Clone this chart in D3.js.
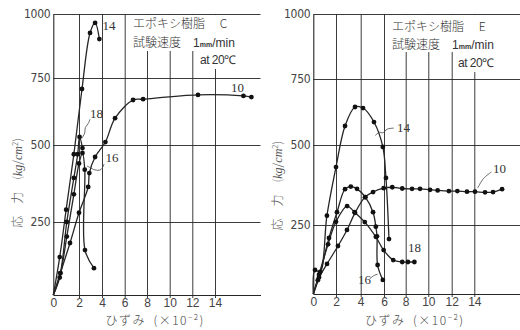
<!DOCTYPE html>
<html>
<head>
<meta charset="utf-8">
<script src="https://cdn.jsdelivr.net/npm/d3@7"></script>
<style>
  body { margin: 0; background: #fff; }
  svg { display: block; }
</style>
</head>
<body>
<svg id="chart" width="520" height="330"></svg>
<script>
// strain (x10^-2) vs stress (kg/cm2), epoxy resin C and E, 1mm/min at 20C
const xTicks = [0, 2, 4, 6, 8, 10, 12, 14];
const yTicks = [250, 500, 750, 1000];
const xMax = 18;

// resin C
const c14 = [[0, 0], [0.5, 130], [1.0, 290], [1.6, 470], [2.26, 709], [2.96, 926], [3.4, 965], [3.77, 902]];
const c18 = [[0, 0], [0.55, 75], [1.05, 250], [1.6, 393], [1.9, 470], [2.05, 530], [2.3, 490]];
const c16 = [[0, 0], [0.5, 60], [1.05, 200], [1.6, 340], [2.0, 440], [2.3, 474], [2.5, 420], [2.52, 154], [3.3, 92]];
const c10 = [[0, 0], [0.55, 75], [1.3, 178], [2.0, 280], [2.8, 364], [2.9, 409], [3.4, 461], [4.3, 511], [5.15, 600],
  [6.75, 668], [7.65, 671], [12.5, 687], [16.5, 683], [17.2, 679]];

// resin E
const e14 = [[0, 0], [0.15, 87], [0.6, 80], [1.2, 279], [2.0, 431], [2.73, 572], [3.54, 644], [4.2, 640], [5.14, 587],
  [5.9, 494], [6.18, 397], [6.46, 199]];
const e10 = [[0, 0], [0.4, 50], [1.21, 109], [2.16, 174], [2.89, 232], [3.54, 288], [4.37, 337], [5.06, 353], [5.97, 365],
  [6.76, 368], [7.68, 364], [8.56, 363], [9.27, 363], [10.15, 360], [10.8, 358], [11.76, 356], [12.5, 356],
  [13.35, 354], [14.06, 354], [14.94, 352], [15.64, 353], [16.43, 362]];
const e16 = [[0, 0], [0.5, 60], [1.38, 203], [2.08, 290], [2.73, 362], [3.2, 370], [3.7, 363], [4.4, 337], [5.06, 290],
  [5.3, 244], [5.4, 209], [5.45, 105], [5.9, 51]];
const e18 = [[0, 0], [0.5, 70], [1.3, 180], [2.0, 260], [2.9, 309], [3.5, 290], [4.35, 259], [5.3, 207], [5.97, 159],
  [6.85, 123], [7.68, 116], [8.2, 116], [8.77, 116]];

const ink = "#262626";
const numFont = "'Liberation Sans', Arial, sans-serif";
const narrowFont = "'Liberation Sans Narrow', 'DejaVu Sans Condensed', sans-serif";
const jpFont = "'Noto Sans CJK JP', 'Noto Sans', sans-serif";

const svg = d3.select("#chart");

const panels = [
  {
    grade: "C",
    // scan is slightly uneven so the scales are piecewise
    xRange: [53.3, 79, 102, 124.7, 147, 169.7, 192.3, 215, 260.5],
    yRange: [295, 222, 145, 78, 14],
    series: [c14, c18, c16, c10],
    labels: [
      { t: "14", x: 4.05, y: 957 },
      { t: "10", x: 15.4, y: 716 },
      { t: "18", x: 2.96, y: 619 },
      { t: "16", x: 4.3, y: 458 }
    ],
    leaders: [
      [[2.26, 526], [2.5, 545], [2.55, 565], [2.8, 580], [2.96, 596]],
      [[4.18, 438], [3.9, 420], [3.39, 419], [2.9, 428], [2.7, 432]]
    ],
    note: { x: 133, y1: 28, y2: 47, x3: 200, y3: 64 },
    masks: [[128, 15, 131, 36], [196, 50, 52, 19]],
    yTitleX: 18
  },
  {
    grade: "E",
    xRange: [313.3, 336, 360.7, 384, 405.7, 428.3, 451.7, 474.3, 520],
    yRange: [294, 225, 145, 79, 14],
    series: [e14, e10, e16, e18],
    labels: [
      { t: "14", x: 7.2, y: 568 },
      { t: "10", x: 15.64, y: 428 },
      { t: "18", x: 8.2, y: 167 },
      { t: "16", x: 3.78, y: 51 }
    ],
    leaders: [
      [[5.25, 536], [5.6, 548], [5.9, 546], [6.3, 560], [6.9, 564]],
      [[14.3, 366], [14.8, 395], [15.5, 416]],
      [[4.75, 54], [5.1, 66], [5.45, 72]]
    ],
    note: { x: 392, y1: 31, y2: 49, x3: 458, y3: 67 },
    masks: [[388, 15, 132, 37], [454, 52, 52, 20]],
    yTitleX: 278
  }
];

panels.forEach(drawPanel);

function drawPanel(p) {
  const x = d3.scaleLinear().domain([...xTicks, xMax]).range(p.xRange);
  const y = d3.scaleLinear().domain([0, ...yTicks]).range(p.yRange);
  const x0 = x(0), x1 = x(xMax), y0 = y(0), yTop = y(1000);
  const g = svg.append("g");

  // x axis with full-height grid lines
  const gx = g.append("g")
    .attr("transform", "translate(0," + y0 + ")")
    .call(d3.axisBottom(x).tickValues(xTicks).tickSizeInner(-(y0 - yTop)).tickSizeOuter(0).tickPadding(3));
  gx.selectAll(".tick line").attr("y1", 3).attr("stroke", ink).attr("stroke-width", 0.9);
  gx.select(".tick line").remove();
  gx.select(".domain").attr("stroke", ink).attr("stroke-width", 1.1);
  gx.selectAll("text").attr("font-family", numFont).attr("font-size", 12).attr("fill", "#444");

  // y axis, gridlines across the panel
  const gy = g.append("g")
    .attr("transform", "translate(" + x0 + ",0)")
    .call(d3.axisLeft(y).tickValues(yTicks).tickFormat(d3.format("d"))
      .tickSizeInner(-(x1 - x0)).tickSizeOuter(0).tickPadding(3));
  gy.selectAll(".tick line").attr("x1", 0).attr("stroke", ink).attr("stroke-width", 0.9);
  gy.select(".domain").attr("stroke", ink).attr("stroke-width", 1.1);
  gy.selectAll("text").attr("font-family", narrowFont).attr("font-size", 12).attr("fill", "#444")
    .attr("letter-spacing", -0.3);

  // white paper under the note text
  g.selectAll(".mask").data(p.masks).enter().append("rect")
    .attr("x", d => d[0]).attr("y", d => d[1]).attr("width", d => d[2]).attr("height", d => d[3])
    .attr("fill", "#fff");

  // note
  const nt = g.append("g").attr("font-family", jpFont).attr("fill", "#333").attr("font-size", 12);
  nt.append("text").attr("x", p.note.x).attr("y", p.note.y1).attr("font-weight", 300)
    .text("エポキシ樹脂\u3000 " + p.grade);
  const l2 = nt.append("text").attr("x", p.note.x).attr("y", p.note.y2).attr("font-weight", 300);
  l2.append("tspan").text("試験速度\u3000");
  l2.append("tspan").attr("font-family", numFont).text("1");
  l2.append("tspan").attr("font-family", numFont).attr("font-size", 7).attr("font-weight", 700).text("mm");
  l2.append("tspan").attr("font-family", numFont).text("/min");
  nt.append("text").attr("x", p.note.x3).attr("y", p.note.y3).attr("font-family", numFont)
    .attr("letter-spacing", -0.5).text("at 20℃");

  // curves
  const line = d3.line().x(d => x(d[0])).y(d => y(d[1])).curve(d3.curveCatmullRom.alpha(0.5));
  g.selectAll(".curve").data(p.series).enter().append("path")
    .attr("d", line).attr("fill", "none").attr("stroke", ink).attr("stroke-width", 1.3);

  p.series.forEach(s => {
    g.selectAll(null).data(s.filter(d => d[0] > 0)).enter().append("circle")
      .attr("cx", d => x(d[0])).attr("cy", d => y(d[1])).attr("r", 2.4).attr("fill", "#111");
  });

  // leader lines and curve numbers
  g.selectAll(".leader").data(p.leaders).enter().append("path")
    .attr("d", line).attr("fill", "none").attr("stroke", "#444").attr("stroke-width", 0.8);
  g.selectAll(".lbl").data(p.labels).enter().append("text")
    .attr("x", d => x(d.x)).attr("y", d => y(d.y)).attr("dy", "0.35em")
    .attr("font-family", "'Liberation Serif', serif").attr("font-size", 13).attr("fill", "#333")
    .text(d => d.t);

  // axis titles
  const xt = g.append("text").attr("x", (x(0) + x(14)) / 2 + 21).attr("y", 325)
    .attr("text-anchor", "middle").attr("font-family", jpFont).attr("font-size", 12).attr("fill", "#444")
    .attr("font-weight", 300).attr("letter-spacing", 1.5);
  xt.append("tspan").text("ひずみ\u2002(×10");
  xt.append("tspan").attr("font-size", 8).attr("dy", -5).text("−2");
  xt.append("tspan").attr("dy", 5).text(")");

  const yt = g.append("text")
    .attr("transform", "translate(" + p.yTitleX + "," + y(230) + ") rotate(-90)")
    .attr("font-family", jpFont).attr("font-size", 12).attr("fill", "#555").attr("font-weight", 300)
    .attr("dy", "0.35em");
  yt.append("tspan").text("応\u2003力\u2003(");
  yt.append("tspan").attr("font-style", "italic").attr("font-family", "'Liberation Serif', serif").text("kg");
  yt.append("tspan").text("/");
  yt.append("tspan").attr("font-style", "italic").attr("font-family", "'Liberation Serif', serif").text("cm");
  yt.append("tspan").attr("font-size", 8).attr("dy", -4).text("2");
  yt.append("tspan").attr("dy", 4).text(")");
}
</script>
</body>
</html>
